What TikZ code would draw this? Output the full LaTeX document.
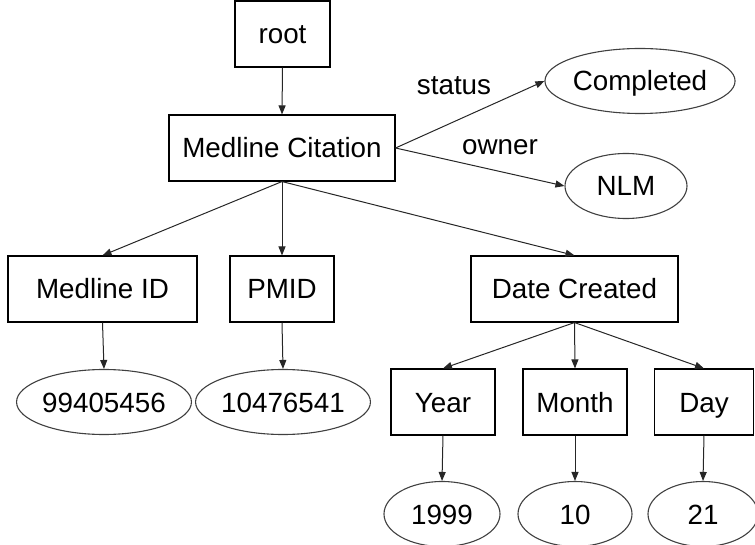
\documentclass[tikz,border=0pt]{standalone}
\usepackage{fontspec}
\setmainfont{Liberation Sans}
\usetikzlibrary{arrows.meta,shapes.geometric}
\begin{document}
\begin{tikzpicture}[x=1pt,y=-1pt,
  every node/.style={font=\fontsize{27.8}{30}\selectfont, inner sep=0pt},
  box/.style={draw=black, line width=1.1pt, rectangle, minimum height=66pt,
              text height=20pt, text depth=0pt},
  val/.style={draw=black!75, line width=1.1pt, ellipse, minimum height=65pt,
              text height=20pt, text depth=0pt},
  link/.style={draw=black!85, line width=1pt, -{Triangle[length=9pt,width=7pt]}},
  lbl/.style={anchor=base}]
\useasboundingbox (0,0) rectangle (755,545);

% element nodes
\node[box, minimum width=95pt]  (root)  at (282.5,34)  {root};
\node[box, minimum width=226pt] (mc)    at (282,148)   {Medline Citation};
\node[box, minimum width=189pt] (mid)   at (102.5,289) {Medline ID};
\node[box, minimum width=104pt] (pmid)  at (282,289)   {PMID};
\node[box, minimum width=207pt] (dc)    at (574.5,289) {Date Created};
\node[box, minimum width=104pt] (year)  at (443,402)   {Year};
\node[box, minimum width=104pt] (month) at (575,402)   {Month};
\node[box, minimum width=99pt]  (day)   at (704,402)   {Day};

% value nodes
\node[val, minimum width=188pt] (comp) at (640,81)  {Completed};
\node[val, minimum width=122pt] (nlm)  at (626,186) {NLM};
\node[val, minimum width=174pt] (v1)   at (104,402) {99405456};
\node[val, minimum width=171pt] (v2)   at (283,402) {10476541};
\node[val, minimum width=116pt] (y1)   at (442,514) {1999};
\node[val, minimum width=114pt] (m1)   at (575,514) {10};
\node[val, minimum width=110pt] (d1)   at (703,514) {21};

% attribute labels
\node[lbl] (st) at (454,95)  {status};
\node[lbl] (ow) at (500,155) {owner};

% connectors
\draw[link] (root.south) -- (mc.north);
\draw[link] (mc.east) -- (comp.west);
\draw[link] (mc.east) -- (nlm.west);
\draw[link] (mc.south) -- (mid.north);
\draw[link] (mc.south) -- (pmid.north);
\draw[link] (mc.south) -- (dc.north);
\draw[link] (mid.south) -- (v1.north);
\draw[link] (pmid.south) -- (v2.north);
\draw[link] (dc.south) -- (year.north);
\draw[link] (dc.south) -- (month.north);
\draw[link] (dc.south) -- (day.north);
\draw[link] (year.south) -- (y1.north);
\draw[link] (month.south) -- (m1.north);
\draw[link] (day.south) -- (d1.north);
\end{tikzpicture}
\end{document}
